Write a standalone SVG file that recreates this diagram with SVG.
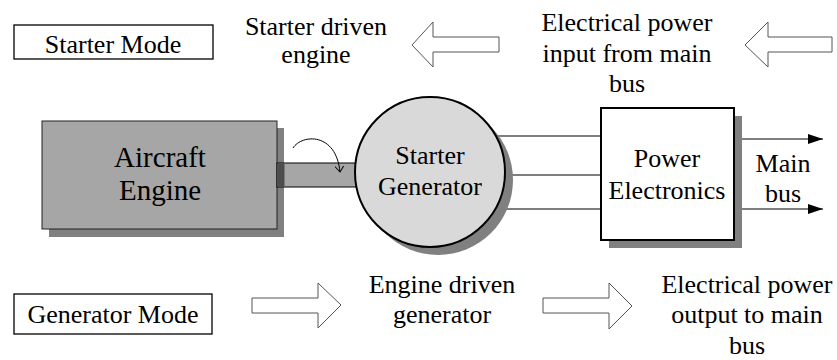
<svg xmlns="http://www.w3.org/2000/svg" width="837" height="360" viewBox="0 0 837 360" font-family="'Liberation Serif', 'Times New Roman', Times, serif">
<style>
text{font-family:'Liberation Serif','Times New Roman',Times,serif;font-size:26px;fill:#000;text-anchor:middle}
.big{font-size:29px}
.blk{fill:#fff;stroke:#555;stroke-width:1}
.shadow{fill:#808080}
.wire{stroke:#000;stroke-width:1.2;fill:none}
</style>
<defs>
<marker id="tri" markerWidth="16" markerHeight="12" refX="15" refY="5" orient="auto" markerUnits="userSpaceOnUse">
<path d="M0,0 L15,5 L0,10 Z" fill="#000"/>
</marker>
<marker id="open" markerWidth="12" markerHeight="12" refX="6" refY="6" orient="auto" markerUnits="userSpaceOnUse">
<path d="M0,1.5 L6,6 L0,10.5" fill="none" stroke="#000" stroke-width="1"/>
</marker>
</defs>

<g id="starter-mode">
<rect x="14" y="25" width="199" height="34" fill="#fff" stroke="#000" stroke-width="1.3"/>
<text x="113" y="53">Starter Mode</text>
</g>
<g id="starter-driven-engine">
<text x="316" y="35">Starter driven</text>
<text x="316" y="63">engine</text>
</g>
<g id="power-input-label">
<text x="627" y="31">Electrical power</text>
<text x="627" y="62">input from main</text>
<text x="627" y="92">bus</text>
</g>
<g id="generator-mode">
<rect x="14" y="294" width="198" height="40" fill="#fff" stroke="#000" stroke-width="1.3"/>
<text x="113" y="323">Generator Mode</text>
</g>
<g id="engine-driven-generator">
<text x="442" y="293">Engine driven</text>
<text x="442" y="323">generator</text>
</g>
<g id="power-output-label">
<text x="747" y="293">Electrical power</text>
<text x="747" y="323">output to main</text>
<text x="747" y="354">bus</text>
</g>

<g id="block-arrows">
<polygon class="blk" points="412,45 433,22 433,37 499,37 499,52 433,52 433,67"/>
<polygon class="blk" points="745,45 768,22 768,37 832,37 832,52 768,52 768,67"/>
<polygon class="blk" points="341,305 318,283 318,298 252,298 252,313 318,313 318,328"/>
<polygon class="blk" points="632,306 609,283 609,298 543,298 543,313 609,313 609,329"/>
</g>

<g id="connectors">
<line class="wire" x1="480" y1="136" x2="601" y2="136"/>
<line class="wire" x1="480" y1="175" x2="601" y2="175"/>
<line class="wire" x1="480" y1="209" x2="601" y2="209"/>
<line class="wire" x1="734" y1="139" x2="823" y2="139" marker-end="url(#tri)"/>
<line class="wire" x1="734" y1="209" x2="823" y2="209" marker-end="url(#tri)"/>
</g>

<g id="aircraft-engine">
<rect class="shadow" x="49" y="128" width="235" height="109"/>
<rect x="42" y="121" width="235" height="108" fill="#a6a6a6" stroke="#222" stroke-width="1"/>
<text class="big" x="160" y="167">Aircraft</text>
<text class="big" x="160" y="200">Engine</text>
</g>

<g id="shaft">
<rect x="277" y="163" width="100" height="24" fill="#a6a6a6" stroke="#000" stroke-width="1"/>
<rect x="277.5" y="163.5" width="7" height="23" fill="#4d4d4d"/>
<path d="M293,148 C302,134 336,132 340,172" fill="none" stroke="#000" stroke-width="1" marker-end="url(#open)"/>
</g>

<g id="starter-generator">
<circle class="shadow" cx="438" cy="180" r="75"/>
<circle cx="430" cy="172" r="75" fill="#d9d9d9" stroke="#000" stroke-width="2"/>
<text x="430" y="164">Starter</text>
<text x="430" y="195">Generator</text>
</g>

<g id="power-electronics">
<rect class="shadow" x="609" y="116" width="133" height="132"/>
<rect x="601" y="108" width="133" height="132" fill="#fff" stroke="#000" stroke-width="2"/>
<text x="667" y="167">Power</text>
<text x="667" y="199">Electronics</text>
</g>

<g id="main-bus">
<text x="783" y="172">Main</text>
<text x="783" y="202">bus</text>
</g>
</svg>
